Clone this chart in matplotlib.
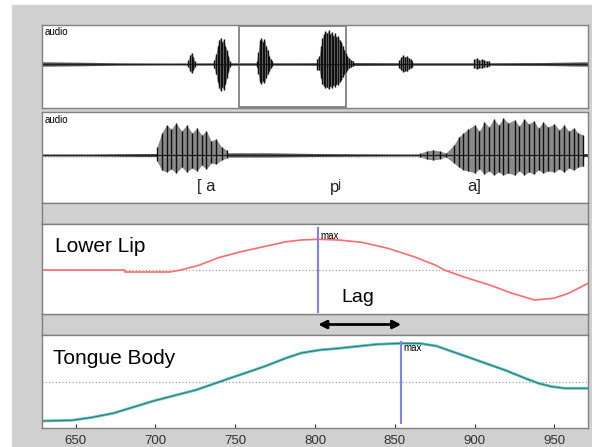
import matplotlib
matplotlib.use("Agg")
import matplotlib.pyplot as plt
from matplotlib.patches import Rectangle

plt.rcParams['font.family'] = ['Liberation Sans', 'DejaVu Sans']

# ---- data ----
# top panel: whole utterance, time in ms
top_noise_t = [0, 120, 250, 400, 600, 800, 1000, 1200, 1400, 1600, 1745]
top_noise_a = [2.2, 1.8, 1.2, 1.0, 1.2, 1.2, 1.5, 1.2, 1.2, 1.5, 2.2]
top_burst_t = [468, 473, 478, 483, 488,
               550, 556, 561, 566, 571, 576, 581, 586, 591, 596, 600,
               686, 691, 696, 701, 706, 711, 716, 721, 726, 731, 736,
               879,
               886, 891, 896, 901, 906, 911, 916, 921, 926, 931, 936, 941,
               946, 951, 956, 961, 966, 971, 976, 981, 988, 995,
               1142, 1148, 1154, 1160, 1166, 1172, 1178, 1184,
               1382, 1390, 1398, 1406, 1414, 1422, 1430]
top_burst_hi = [4, 9, 11, 7, 3,
                4, 10, 18, 24, 26, 22, 25, 18, 14, 8, 3,
                3, 12, 24, 26, 22, 25, 18, 14, 8, 5, 3,
                5,
                8, 18, 26, 30, 33, 31, 34, 30, 32, 28, 31, 27,
                28, 24, 22, 18, 14, 11, 8, 6, 4, 3,
                4, 7, 9, 7, 8, 6, 5, 3,
                5, 6, 4, 5, 4, 3, 3]
top_burst_lo = [3, 7, 9, 6, 3,
                4, 10, 18, 24, 27, 23, 26, 20, 14, 8, 3,
                3, 10, 18, 20, 17, 19, 14, 10, 7, 4, 2,
                6,
                6, 14, 20, 22, 24, 23, 25, 22, 24, 21, 23, 20,
                21, 18, 16, 13, 10, 8, 6, 4, 3, 2,
                4, 6, 8, 7, 7, 5, 4, 3,
                4, 5, 4, 4, 3, 3, 2]
sel_start, sel_end = 629, 971

# second panel: zoomed audio
aud_noise_t = [629, 660, 690, 700, 750, 770, 800, 850, 870, 885, 971]
aud_noise_a = [1.0, 1.0, 1.5, 1.5, 2.2, 2.2, 1.5, 1.0, 1.0, 1.5, 1.5]
aud_burst_t = [701, 704, 707, 710, 713, 716.5, 719.6, 723, 726, 729, 732,
               735, 738, 741.5, 744.6,
               866, 870, 874, 878, 882,
               887, 890, 893, 896, 900, 903, 906, 909, 912, 915, 918, 921,
               925, 928, 931, 934, 937, 940, 943, 946, 950, 953, 956, 959,
               962, 965, 968]
aud_burst_hi = [8, 22, 30, 26, 32, 24, 30, 22, 27, 20, 24, 14, 16, 8, 5,
                2, 4, 5, 4, 2,
                10, 18, 22, 26, 30, 24, 33, 28, 36, 30, 37, 32, 35, 29, 36,
                31, 34, 27, 33, 28, 31, 25, 30, 24, 27, 22, 20]
aud_burst_lo = [6, 15, 17, 14, 18, 12, 17, 13, 16, 10, 14, 8, 9, 5, 3,
                2, 4, 5, 4, 2,
                8, 12, 15, 16, 18, 14, 19, 16, 20, 17, 20, 18, 20, 16, 20,
                17, 19, 15, 18, 16, 17, 14, 17, 13, 15, 12, 11]
seg_labels = ['[ a', 'pʲ', 'a]']
seg_t = [732, 813, 900]

# lower lip trajectory
lip_t = [629, 680.6, 681, 708.9, 716, 727.8, 739.5, 753.7, 767.8, 782,
         791.4, 802, 815, 829.2, 845.7, 862, 876.3, 881, 892.8, 909.4,
         923.4, 937.6, 949.4, 958.9, 971]
lip_y = [0, 0, -0.2, -0.2, 0, 0.5, 1.23, 1.83, 2.33, 2.83,
         3.0, 3.07, 3.0, 2.77, 2.17, 1.33, 0.43, 0, -0.67, -1.5,
         -2.33, -3.0, -2.83, -2.33, -1.33]
lip_max_t = 802

# tongue body trajectory
tb_t = [629, 647.6, 660, 673.5, 699.4, 725.4, 746.6, 767.9, 782, 791.4,
        803, 815, 838.6, 854, 866, 876, 895.2, 918.8, 932, 940, 948,
        956.5, 971]
tb_y = [-3.9, -3.83, -3.55, -3.13, -1.87, -0.8, 0.37, 1.53, 2.4, 2.9,
        3.2, 3.37, 3.77, 3.87, 3.85, 3.6, 2.53, 1.2, 0.35, -0.13, -0.45,
        -0.63, -0.63]
tb_max_t = 854

xticks = [650, 700, 750, 800, 850, 900, 950]

# ---- figure ----
W, H = 592, 447
fig = plt.figure(figsize=(W / 100, H / 100), dpi=100)
fig.patches.append(Rectangle((12 / W, 0), 1 - 12 / W, 1 - 5 / H,
                             transform=fig.transFigure, color='#d0d0d0',
                             zorder=-10))


def px_axes(top, bottom, face='white'):
    ax = fig.add_axes([42 / W, 1 - bottom / H, 546 / W, (bottom - top) / H])
    ax.set_facecolor(face)
    ax.set_xticks([])
    ax.set_yticks([])
    for s in ax.spines.values():
        s.set_color('#808080')
        s.set_linewidth(1)
    return ax


def draw_wave(ax, noise_t, noise_a, t, hi, lo):
    ax.fill_between(noise_t, [-a for a in noise_a], noise_a,
                    color='#555555', lw=0)
    ax.plot([noise_t[0], noise_t[-1]], [0, 0], color='#222222', lw=0.9)
    # fill each burst on its own so that gaps stay empty
    start = 0
    for i in range(1, len(t) + 1):
        if i == len(t) or t[i] - t[i - 1] > 12:
            seg = slice(start, i)
            ax.fill_between(t[seg], [-v for v in lo[seg]], hi[seg],
                            color='#8a8a8a', lw=0)
            start = i
    ax.vlines(t, [-v for v in lo], hi, color='#111111', lw=1)


# top audio
ax1 = px_axes(25, 108)
ax1.set_xlim(0, 1745)
ax1.set_ylim(-44, 39)
draw_wave(ax1, top_noise_t, top_noise_a, top_burst_t, top_burst_hi,
          top_burst_lo)
ax1.add_patch(Rectangle((sel_start, -43), sel_end - sel_start, 81,
                        fill=False, edgecolor='#808080', lw=1.3))
ax1.text(0.005, 0.97, 'audio', transform=ax1.transAxes, fontsize=7,
         va='top', ha='left')

# zoomed audio
ax2 = px_axes(112, 203)
ax2.set_xlim(629, 971)
ax2.set_ylim(-48, 43)
ax2.axhline(-1.5, color='#bbbbbb', lw=0.8, ls=(0, (1, 1.5)))
draw_wave(ax2, aud_noise_t, aud_noise_a, aud_burst_t, aud_burst_hi,
          aud_burst_lo)
ax2.text(0.005, 0.97, 'audio', transform=ax2.transAxes, fontsize=7,
         va='top', ha='left')
for lab, t in zip(seg_labels, seg_t):
    ax2.text(t, -32, lab, fontsize=12, ha='center', va='center',
             color='#222222')

# gray strips
px_axes(203, 224, '#d0d0d0')
ax_s = px_axes(314, 335, '#d0d0d0')
ax_s.set_xlim(629, 971)
ax_s.set_ylim(0, 1)
ax_s.annotate('', xy=(tb_max_t, 0.5), xytext=(lip_max_t, 0.5),
              arrowprops=dict(arrowstyle='<|-|>', lw=2, color='black',
                              mutation_scale=12, shrinkA=0, shrinkB=0))

# lower lip
ax3 = px_axes(224, 314)
ax3.set_xlim(629, 971)
ax3.set_ylim(-4.4, 4.6)
ax3.axhline(0, color='#999999', lw=0.8, ls=(0, (1, 2)))
ax3.plot(lip_t, lip_y, color='#ff6a6a', lw=1.2)
ax3.plot([lip_max_t, lip_max_t], [-4.2, 4.2], color='#8080ff', lw=1.5)
ax3.text(lip_max_t + 1.5, 3.4, 'max', fontsize=7, va='center', ha='left')
ax3.text(827, -2.8, 'Lag', fontsize=14, ha='center', va='center')
ax3.text(0.024, 0.75, 'Lower Lip', transform=ax3.transAxes, fontsize=15,
         va='center', ha='left')

# tongue body
ax4 = px_axes(335, 428)
ax4.set_xlim(629, 971)
ax4.set_ylim(-4.6, 4.7)
ax4.axhline(0, color='#999999', lw=0.8, ls=(0, (1, 2)))
ax4.plot(tb_t, tb_y, color='#40d0d0', lw=2)
ax4.plot(tb_t, tb_y, color='#606060', lw=0.7)
ax4.plot([tb_max_t, tb_max_t], [-4.1, 4.0], color='#8080ff', lw=1.5)
ax4.text(tb_max_t + 1.5, 3.4, 'max', fontsize=7, va='center', ha='left')
ax4.text(0.02, 0.75, 'Tongue Body', transform=ax4.transAxes, fontsize=15,
         va='center', ha='left')
ax4.set_xticks(xticks)
ax4.tick_params(axis='x', direction='in', length=3, color='#333333',
                labelsize=9.5, labelcolor='#333333', pad=5)

fig.savefig('out.png', dpi=100)
